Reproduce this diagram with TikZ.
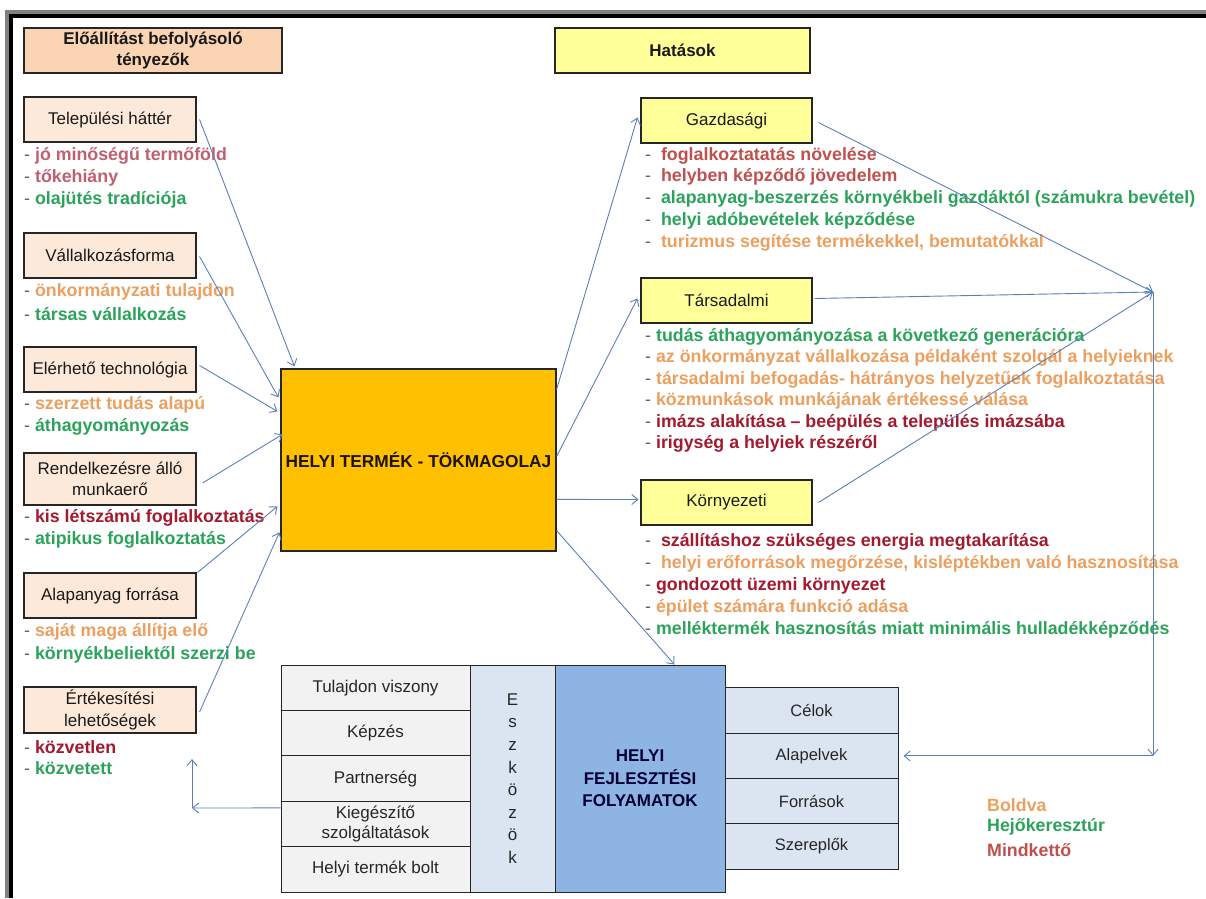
\documentclass[tikz,border=0pt]{standalone}
\usepackage{fontspec}
\setmainfont{Liberation Sans}
\usetikzlibrary{arrows.meta,calc}
\definecolor{peachhd}{HTML}{FBD4B4}
\definecolor{peachlt}{HTML}{FDE9D9}
\definecolor{yell}{HTML}{FFFF99}
\definecolor{gold}{HTML}{FFC000}
\definecolor{bluebox}{HTML}{8EB4E3}
\definecolor{bluelt}{HTML}{DBE5F1}
\definecolor{graylt}{HTML}{F2F2F2}
\definecolor{boxline}{HTML}{262626}
\definecolor{arrc}{HTML}{5B80B8}
\definecolor{cor}{HTML}{EBA060}
\definecolor{cgr}{HTML}{2BA35A}
\definecolor{cmk}{HTML}{C0504D}
\definecolor{cdr}{HTML}{A3192E}
\definecolor{crs}{HTML}{BF6070}
\definecolor{dashc}{HTML}{606060}
\definecolor{frgray}{HTML}{808080}
\newcommand{\fsbox}{\fontsize{17}{21.5}\selectfont}
\newcommand{\fsitem}{\fontsize{17.8}{20}\selectfont\bfseries}
\newcommand{\dd}{\textcolor{dashc}{\mdseries -}\ }
\newcommand{\ddd}{\textcolor{dashc}{\mdseries -}\ \ }
\begin{document}
\begin{tikzpicture}[x=1pt,y=-1pt,
  lbox/.style={draw=boxline,line width=1.1pt,fill=peachlt,minimum width=172pt,minimum height=45pt,inner sep=0pt,font=\fsbox,align=center,text=black!90},
  rbox/.style={lbox,fill=yell,minimum width=171pt},
  hdr/.style={draw=boxline,line width=1.1pt,minimum height=45pt,inner sep=0pt,font=\fontsize{17}{21}\selectfont\bfseries,align=center,text=black!90},
  item/.style={anchor=west,inner sep=0pt,font=\fsitem},
  cell/.style={draw=boxline,line width=1pt,fill=graylt,minimum width=189pt,minimum height=45.4pt,inner sep=0pt,font=\fsbox,align=center,text=black!85},
  rcell/.style={cell,fill=bluelt,minimum width=173pt,minimum height=45.25pt,font=\fontsize{16.5}{20}\selectfont},
  arr/.style={draw=arrc,line width=0.9pt,-{Straight Barb[length=6pt,width=10pt]}}]
\useasboundingbox (0,0) rectangle (1206,898);
\fill[white] (0,0) rectangle (1206,898);
% frame
\fill[frgray] (5,10) rectangle (1206,14);
\fill[frgray] (5,10) rectangle (9,898);
\fill[black] (9,14) rectangle (1206,18);
\fill[black] (9,14) rectangle (13,898);

% headers
\node[hdr,fill=peachhd,minimum width=258pt] (hleft) at (153,50.5) {Előállítást befolyásoló\\tényezők};
\node[hdr,fill=yell,minimum width=255pt] (hright) at (682.5,50.5) {Hatások};

% left boxes
\node[lbox] (tel) at (110,119.5) {Települési háttér};
\node[lbox] (val) at (110,255.5) {Vállalkozásforma};
\node[lbox] (ele) at (110,369.5) {Elérhető technológia};
\node[lbox,minimum height=52pt] (ren) at (110,479) {Rendelkezésre álló\\munkaerő};
\node[lbox] (ala) at (110,595.5) {Alapanyag forrása};
\node[lbox,minimum height=46pt] (ert) at (110,710) {Értékesítési\\lehetőségek};

% left items
\node[item,text=crs] (t1) at (24,156) {\dd jó minőségű termőföld};
\node[item,text=crs] (t2) at (24,178) {\dd tőkehiány};
\node[item,text=cgr] (t3) at (24,200) {\dd olajütés tradíciója};
\node[item,text=cor] (v1) at (24,292) {\dd önkormányzati tulajdon};
\node[item,text=cgr] (v2) at (24,314) {\dd társas vállalkozás};
\node[item,text=cor] (e1) at (24,405) {\dd szerzett tudás alapú};
\node[item,text=cgr] (e2) at (24,427) {\dd áthagyományozás};
\node[item,text=cdr] (r1) at (24,518) {\dd kis létszámú foglalkoztatás};
\node[item,text=cgr] (r2) at (24,540) {\dd atipikus foglalkoztatás};
\node[item,text=cor] (a1) at (24,632) {\dd saját maga állítja elő};
\node[item,text=cgr] (a2) at (24,655) {\dd környékbeliektől szerzi be};
\node[item,text=cdr] (k1) at (24,747) {\dd közvetlen};
\node[item,text=cgr] (k2) at (24,768) {\dd közvetett};

% main box
\node[draw=boxline,line width=1.2pt,fill=gold,minimum width=275pt,minimum height=182pt,inner sep=0pt,font=\fontsize{17.3}{20}\selectfont\bfseries,text=black!85!brown] (main) at (418.5,460) {HELYI TERMÉK - TÖKMAGOLAJ};

% right boxes
\node[rbox] (gaz) at (726.5,120.5) {Gazdasági};
\node[rbox] (tar) at (726.5,300.5) {Társadalmi};
\node[rbox] (kor) at (726.5,502.5) {Környezeti};

% right items
\node[item,text=cmk] (g1) at (645,156) {\ddd foglalkoztatatás növelése};
\node[item,text=cmk] (g2) at (645,177) {\ddd helyben képződő jövedelem};
\node[item,text=cgr] (g3) at (645,199) {\ddd alapanyag-beszerzés környékbeli gazdáktól (számukra bevétel)};
\node[item,text=cgr] (g4) at (645,221) {\ddd helyi adóbevételek képződése};
\node[item,text=cor] (g5) at (645,243) {\ddd turizmus segítése termékekkel, bemutatókkal};

\node[item,text=cgr] (s1) at (645,337) {\dd tudás áthagyományozása a következő generációra};
\node[item,text=cor] (s2) at (645,358) {\dd az önkormányzat vállalkozása példaként szolgál a helyieknek};
\node[item,text=cor] (s3) at (645,380) {\dd társadalmi befogadás- hátrányos helyzetűek foglalkoztatása};
\node[item,text=cor] (s4) at (645,401) {\dd közmunkások munkájának értékessé válása};
\node[item,text=cdr] (s5) at (645,423) {\dd imázs alakítása – beépülés a település imázsába};
\node[item,text=cdr] (s6) at (645,444) {\dd irigység a helyiek részéről};

\node[item,text=cdr] (n1) at (645,542) {\ddd szállításhoz szükséges energia megtakarítása};
\node[item,text=cor] (n2) at (645,564) {\ddd helyi erőforrások megőrzése, kisléptékben való hasznosítása};
\node[item,text=cdr] (n3) at (645,586) {\dd gondozott üzemi környezet};
\node[item,text=cor] (n4) at (645,608) {\dd épület számára funkció adása};
\node[item,text=cgr] (n5) at (645,630) {\dd melléktermék hasznosítás miatt minimális hulladékképződés};

% bottom left table
\node[cell] (tul) at (375.5,687.7) {Tulajdon viszony};
\node[cell] (kep) at (375.5,733.1) {Képzés};
\node[cell] (par) at (375.5,778.5) {Partnerség};
\node[cell,font=\fontsize{17}{19.5}\selectfont] (kie) at (375.5,823.9) {Kiegészítő\\szolgáltatások};
\node[cell] (bol) at (375.5,869.3) {Helyi termék bolt};
\node[draw=boxline,line width=1pt,fill=bluelt,minimum width=85pt,minimum height=227pt,inner sep=0pt,align=center,font=\fontsize{17}{22.6}\selectfont,text=black!85] (esz) at (512.5,778.5) {E\\s\\z\\k\\ö\\z\\ö\\k};
\node[draw=boxline,line width=1pt,fill=bluebox,minimum width=170pt,minimum height=227pt,inner sep=0pt,align=center,font=\fontsize{17}{22.5}\selectfont\bfseries,text=black!80!blue] (fejl) at (640,778.5) {HELYI\\FEJLESZTÉSI\\FOLYAMATOK};

% right table
\node[rcell] (cel) at (811.5,710.6) {Célok};
\node[rcell] (alp) at (811.5,755.9) {Alapelvek};
\node[rcell] (for) at (811.5,801.1) {Források};
\node[rcell] (sze) at (811.5,846.4) {Szereplők};

% legend
\node[item,text=cor] (lb) at (987,805) {Boldva};
\node[item,text=cgr] (lh) at (987,827) {Hejőkeresztúr};
\node[item,text=cmk] (lm) at (987,850) {Mindkettő};

% connectors left -> main
\draw[arr] ($(tel.east)+(3,0)$) -- ($(main.north west)+(14,-2)$);
\draw[arr] ($(val.east)+(3,1)$) -- ($(main.north west)+(-2,29)$);
\draw[arr] ($(ele.east)+(3,-4)$) -- ($(main.north west)+(-3,43)$);
\draw[arr] ($(ren.east)+(6,4)$) -- ($(main.north west)+(2,66)$);
\draw[arr] ($(ala.north east)+(1,0)$) -- ($(main.north west)+(-3,138)$);
\draw[arr] ($(ert.east)+(3,2)$) -- ($(main.north west)+(-1,164)$);

% main -> right
\draw[arr] ($(main.north east)+(0,21)$) -- ($(gaz.west)+(-3,-3)$);
\draw[arr] ($(main.north east)+(0,88)$) -- ($(tar.west)+(-3,-2)$);
\draw[arr] ($(main.north east)+(0,131)$) -- ($(kor.west)+(-2,-3)$);
\draw[arr] ($(main.south east)+(0,-21)$) -- ($(fejl.north west)+(120,0)$);

% right -> convergence
\coordinate (conv) at (1153,292);
\coordinate (cdown) at (1153,755.9);
\draw[arr] ($(gaz.east)+(6,2)$) -- (conv);
\draw[arr] ($(tar.east)+(2,-2)$) -- (conv);
\draw[arr] ($(kor.east)+(6,0)$) -- (conv);
\draw[arr] (conv) -- (cdown);
\draw[arr] (cdown) -- ($(alp.east)+(5,0)$);

% bottom-left return arrows
\coordinate (bcorner) at (192,808);
\coordinate (bup) at (192,759);
\draw[arr] ($(kie.west)+(0,-16)$) -- (bcorner);
\draw[arr] (bcorner) -- (bup);
\end{tikzpicture}
\end{document}
